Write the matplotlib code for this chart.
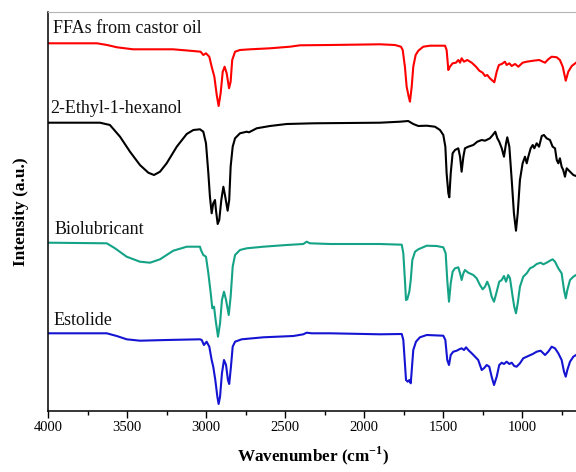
import matplotlib
matplotlib.use("Agg")
import matplotlib.pyplot as plt
from matplotlib.ticker import MultipleLocator

plt.rcParams['font.family'] = ['Liberation Serif', 'DejaVu Serif']
plt.rcParams['mathtext.fontset'] = 'custom'
plt.rcParams['mathtext.rm'] = 'Liberation Serif'
plt.rcParams['mathtext.bf'] = 'Liberation Serif:bold'

# ---- data (wavenumber in cm-1, intensity in a.u., traces already offset) ----
ffa_wn = [4000, 3692, 3628, 3565, 3464, 3356, 3211, 3084, 3036, 3019, 3002, 2981, 2966,
          2949, 2934, 2922, 2909, 2896, 2884, 2871, 2856, 2846, 2836, 2818, 2787, 2723,
          2597, 2470, 2407, 2217, 1901, 1806, 1768, 1757, 1743, 1732, 1719, 1711, 1700,
          1690, 1675, 1658, 1627, 1584, 1489, 1479, 1468, 1458, 1441, 1420, 1405, 1394,
          1384, 1369, 1348, 1320, 1293, 1272, 1251, 1236, 1222, 1205, 1177, 1162, 1148,
          1130, 1110, 1099, 1082, 1067, 1046, 1025, 998, 972, 930, 893, 856, 836, 814,
          782, 762, 744, 725, 709, 687, 660, 650]
ffa_int = [367.7, 367.7, 366, 363.7, 361.7, 361.7, 361.7, 360, 359.3, 356, 357.7, 354.3, 344.3,
           334.3, 316, 305, 318, 339.3, 344.3, 337.7, 322.7, 329.3, 351, 359.3, 361, 361.7,
           362.7, 364.3, 365.7, 366, 366.7, 366, 364.3, 361, 344.3, 324.3, 314.3, 309.3, 324.3,
           344.3, 356, 360.3, 364.3, 365.3, 365.3, 361, 341, 344.3, 347.7, 348.3, 351, 348.3,
           352.7, 349.3, 351, 348.3, 344.3, 340.3, 338.3, 335, 336, 332.7, 328.7, 339.3, 346,
           347, 349.3, 346, 347.7, 345, 347, 344.3, 348.3, 349.3, 350.3, 351, 348.3, 351.7, 354.3,
           353.7, 351, 344.3, 330.3, 339.3, 345, 348.3, 349.5]

eh_wn = [4000, 3673, 3610, 3546, 3483, 3420, 3367, 3331, 3293, 3251, 3187, 3124, 3082,
         3040, 3019, 3002, 2987, 2977, 2966, 2956, 2945, 2939, 2928, 2918, 2905, 2892,
         2880, 2865, 2855, 2846, 2833, 2818, 2787, 2744, 2730, 2681, 2597, 2491, 2323,
         1901, 1774, 1722, 1690, 1658, 1605, 1553, 1521, 1500, 1487, 1479, 1468, 1462,
         1453, 1441, 1426, 1405, 1394, 1384, 1373, 1363, 1342, 1310, 1285, 1257, 1236,
         1205, 1187, 1171, 1158, 1146, 1130, 1116, 1103, 1095, 1082, 1067, 1053, 1040,
         1029, 1015, 998, 983, 972, 962, 947, 934, 924, 909, 894, 877, 863, 846, 825,
         808, 793, 782, 772, 762, 751, 741, 730, 719, 698, 677, 660, 650]
eh_int = [288.3, 288.3, 286, 274.3, 259.3, 246, 238.3, 236, 239.3, 247.7, 264.3, 277, 281,
          281.7, 279.3, 267.7, 237.7, 214.3, 197.7, 207.7, 211, 201, 187, 191, 211, 224.3,
          214.3, 200.3, 211, 244.3, 264.3, 272.7, 277.7, 279.3, 278.7, 282.7, 285, 287, 287.7,
          288.3, 289.3, 290, 287, 285, 285.3, 284.3, 281, 276, 264.3, 237.7, 217.7, 213.7,
          237.7, 257.7, 261, 262.7, 254.3, 239.3, 254.3, 262.7, 264.3, 266, 269.3, 271, 270.3,
          272.7, 276, 279.3, 272.7, 269.3, 262.7, 254.3, 267.7, 273.7, 264.3, 231, 197.7, 180.3,
          197.7, 231, 247.7, 254.3, 247.7, 254.3, 262.7, 266, 262.7, 267.7, 264.3, 275, 276, 272.7, 271,
          264.3, 262.7, 251, 247.7, 252.7, 244.3, 241, 234.3, 242.7, 239.3, 236, 235, 234]

bio_wn = [4000, 3630, 3578, 3504, 3420, 3356, 3293, 3209, 3124, 3040, 3034, 3019, 3002,
          2987, 2972, 2962, 2951, 2941, 2926, 2913, 2901, 2888, 2875, 2858, 2846, 2833,
          2818, 2787, 2744, 2639, 2491, 2386, 2365, 2344, 2217, 1901, 1763, 1753, 1743,
          1736, 1728, 1715, 1706, 1696, 1679, 1658, 1605, 1542, 1500, 1485, 1475, 1464,
          1453, 1441, 1426, 1405, 1394, 1384, 1373, 1363, 1342, 1310, 1289, 1268, 1251,
          1236, 1222, 1209, 1194, 1179, 1162, 1146, 1130, 1116, 1103, 1089, 1078, 1061,
          1051, 1040, 1029, 1015, 994, 972, 951, 930, 909, 884, 867, 846, 825, 808, 793,
          772, 751, 736, 725, 715, 698, 677, 660, 650]
bio_int = [168.3, 167.7, 162.7, 154.3, 149.3, 148.3, 151.7, 160.3, 164.3, 164.3, 161, 156, 154.3,
           137.7, 117.7, 102.7, 104.3, 91, 74.3, 87.7, 111, 119.3, 111, 96, 114.3, 144.3,
           156, 161, 162.7, 164.3, 166, 167, 169.3, 167.7, 167, 167, 166.3, 157.7, 131,
           111, 111.7, 119.3, 131, 151, 159.3, 161.7, 165.3, 165, 163.7, 157.7, 131, 109.3,
           127.7, 139.3, 142.7, 143.7, 137.7, 131, 137.7, 141, 138.3, 136, 132.7, 126, 121.7,
           124.3, 129.3, 124.3, 114.3, 109.3, 119.3, 129.3, 131, 135, 129.3, 136, 132.7, 114.3,
           104.3, 97.7, 107.7, 124.3, 134.3, 137.7, 142.7, 144.3, 147, 148.3, 146.7, 148.3, 150.3, 151.7, 149.3,
           142.7, 137.7, 121, 112.7, 121, 131, 134.3, 136, 137]

est_wn = [4000, 3630, 3567, 3504, 3420, 3251, 3040, 3029, 3015, 2998, 2981, 2966, 2956,
          2943, 2930, 2922, 2913, 2901, 2888, 2875, 2863, 2855, 2844, 2833, 2818, 2776,
          2639, 2449, 2386, 2365, 2333, 2217, 1901, 1763, 1753, 1743, 1736, 1725, 1715,
          1706, 1698, 1690, 1673, 1648, 1605, 1500, 1487, 1475, 1464, 1453, 1437, 1415,
          1399, 1384, 1369, 1356, 1342, 1320, 1299, 1279, 1257, 1243, 1225, 1209, 1194,
          1179, 1162, 1146, 1130, 1116, 1099, 1082, 1067, 1051, 1036, 1015, 994, 962,
          934, 909, 884, 856, 836, 814, 793, 772, 751, 736, 725, 715, 698, 677, 660, 650]
est_int = [77.7, 77.7, 75, 71.7, 70.3, 71, 71.7, 71, 66, 69.3, 64.3, 51, 44.3,
           31, 14.3, 7, 14.3, 37.7, 51, 46, 31, 27, 44.3, 64.3, 69.3, 71.7,
           73.7, 75, 76.7, 78.3, 77.7, 77.7, 76.7, 77, 71, 47.7, 31, 29.3, 31,
           27.7, 44.3, 61, 69.3, 73.7, 76, 75.3, 71, 51, 46, 56, 59.3, 60.3,
           61.7, 62.7, 61, 63.7, 61, 57.7, 54.3, 51, 41, 42.7, 46, 44.3, 34.3,
           26, 34.3, 46, 48.3, 47, 49.3, 47, 48.3, 45, 44.3, 47.7, 52.7, 55,
           57, 59.3, 60.3, 56, 59.3, 64.3, 62.7, 57.7, 51, 39.3, 34.3, 41, 49.3, 54.3, 56, 57]

series = [
    ("FFAs from castor oil", ffa_wn, ffa_int, "#ff0000", 3970, 377.7),
    ("2-Ethyl-1-hexanol", eh_wn, eh_int, "#000000", 3985, 297.7),
    ("Biolubricant", bio_wn, bio_int, "#14a386", 3962, 176.7),
    ("Estolide", est_wn, est_int, "#1414d2", 3968, 86.0),
]

fig = plt.figure(figsize=(5.76, 4.72), dpi=100)
ax = fig.add_axes([48.3 / 576, 61 / 472, 529.3 / 576, 399 / 472])

for name, wn, inten, color, lx, ly in series:
    ax.plot(wn, inten, color=color, lw=1.5, solid_joinstyle='round')
    ax.text(lx, ly, name, fontsize=13, color='#111111', ha='left', va='baseline')

ax.set_xlim(4000, 650)
ax.set_ylim(0, 399)
ax.xaxis.set_major_locator(MultipleLocator(500))
ax.xaxis.set_minor_locator(MultipleLocator(250))
ax.tick_params(axis='x', which='major', direction='out', length=5, width=1.0,
               labelsize=10.5, pad=2, top=False)
ax.tick_params(axis='x', which='minor', direction='out', length=3, width=1.0, top=False)
ax.set_yticks([])

for s in ('left', 'bottom'):
    ax.spines[s].set_linewidth(1.1)
    ax.spines[s].set_color('black')
ax.spines['top'].set_color('#b4b4b4')
ax.spines['top'].set_linewidth(0.8)
ax.spines['right'].set_visible(False)

ax.set_xlabel(r'Wavenumber (cm$^{\mathbf{-1}}$)', fontsize=12.3, fontweight='bold', labelpad=8)
ax.set_ylabel('Intensity (a.u.)', fontsize=12.5, fontweight='bold', labelpad=14)

fig.savefig('out.png', dpi=100)
